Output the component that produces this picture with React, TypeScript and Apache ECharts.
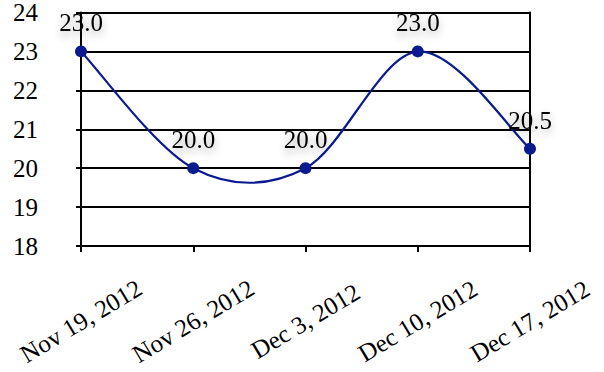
import React, { useEffect, useRef } from "react";
import * as echarts from "echarts";

const categories = ["Nov 19, 2012", "Nov 26, 2012", "Dec 3, 2012", "Dec 10, 2012", "Dec 17, 2012"];
const values = [23.0, 20.0, 20.0, 23.0, 20.5];
const yMin = 18;
const yMax = 24;

const FONT = "'Times New Roman', 'Liberation Serif', serif";
const FONT_SIZE = 25;
const LINE_COLOR = "#0a1a8f";

// Smooth curve segment i -> i+1 as a cubic Bezier (Catmull-Rom style tangents, 1/6 factor)
function renderSegment(params: any, api: any) {
  const i = params.dataIndex;
  const n = values.length;
  if (i >= n - 1) return null;
  const clamp = (k: number) => Math.max(0, Math.min(n - 1, k));
  const pt = (k: number) => api.coord([clamp(k), values[clamp(k)]]);
  const p0 = pt(i - 1);
  const p1 = pt(i);
  const p2 = pt(i + 1);
  const p3 = pt(i + 2);
  const t1 = [(p2[0] - p0[0]) / 6, (p2[1] - p0[1]) / 6];
  const t2 = [(p3[0] - p1[0]) / 6, (p3[1] - p1[1]) / 6];
  return {
    type: "bezierCurve",
    shape: {
      x1: p1[0],
      y1: p1[1],
      cpx1: p1[0] + t1[0],
      cpy1: p1[1] + t1[1],
      cpx2: p2[0] - t2[0],
      cpy2: p2[1] - t2[1],
      x2: p2[0],
      y2: p2[1],
    },
    style: { stroke: LINE_COLOR, lineWidth: 2.2, fill: "none" },
  };
}

export default function App() {
  const ref = useRef<HTMLDivElement>(null);

  useEffect(() => {
    if (!ref.current) return;
    const chart = echarts.init(ref.current, null, { renderer: "svg" });
    chart.setOption({
      animation: false,
      backgroundColor: "#ffffff",
      textStyle: { fontFamily: FONT },
      grid: { left: 81, right: 74, top: 12, bottom: 126 },
      xAxis: {
        type: "category",
        data: categories,
        boundaryGap: false,
        axisLine: { show: true, lineStyle: { color: "#000", width: 2 } },
        axisTick: { show: true, length: 6, lineStyle: { color: "#000", width: 2 } },
        axisLabel: {
          rotate: 31,
          align: "center",
          verticalAlign: "middle",
          margin: 75,
          color: "#000",
          fontFamily: FONT,
          fontSize: FONT_SIZE,
          interval: 0,
        },
        splitLine: { show: false },
      },
      yAxis: [
        {
          type: "value",
          min: yMin,
          max: yMax,
          interval: 1,
          axisLine: { show: true, lineStyle: { color: "#000", width: 2 } },
          axisTick: { show: true, length: 5, lineStyle: { color: "#000", width: 2 } },
          axisLabel: {
            margin: 43,
            color: "#000",
            fontFamily: FONT,
            fontSize: FONT_SIZE,
            padding: [8, 0, 0, 0],
          },
          splitLine: { show: true, lineStyle: { color: "#000", width: 2 } },
        },
        {
          type: "value",
          position: "right",
          min: yMin,
          max: yMax,
          interval: 1,
          axisLine: { show: true, lineStyle: { color: "#000", width: 2 } },
          axisTick: { show: false },
          axisLabel: { show: false },
          splitLine: { show: false },
        },
      ],
      series: [
        {
          type: "custom",
          renderItem: renderSegment,
          data: values.map((v, i) => [i, v]),
          encode: { x: 0, y: 1 },
          silent: true,
          z: 2,
        },
        {
          type: "line",
          data: values,
          symbol: "circle",
          symbolSize: 12,
          lineStyle: { opacity: 0 },
          itemStyle: { color: LINE_COLOR },
          z: 3,
          label: {
            show: true,
            position: "top",
            distance: 10,
            formatter: (p: any) => Number(p.value).toFixed(1),
            color: "#000",
            fontFamily: FONT,
            fontSize: FONT_SIZE,
            textShadowColor: "rgba(0,0,0,0.35)",
            textShadowBlur: 8,
            textShadowOffsetX: 0,
            textShadowOffsetY: 4,
          },
        },
      ],
    });
    return () => chart.dispose();
  }, []);

  return (
    <div
      ref={ref}
      style={{ position: "fixed", left: 0, top: 0, width: 604, height: 372, background: "#fff" }}
    />
  );
}
